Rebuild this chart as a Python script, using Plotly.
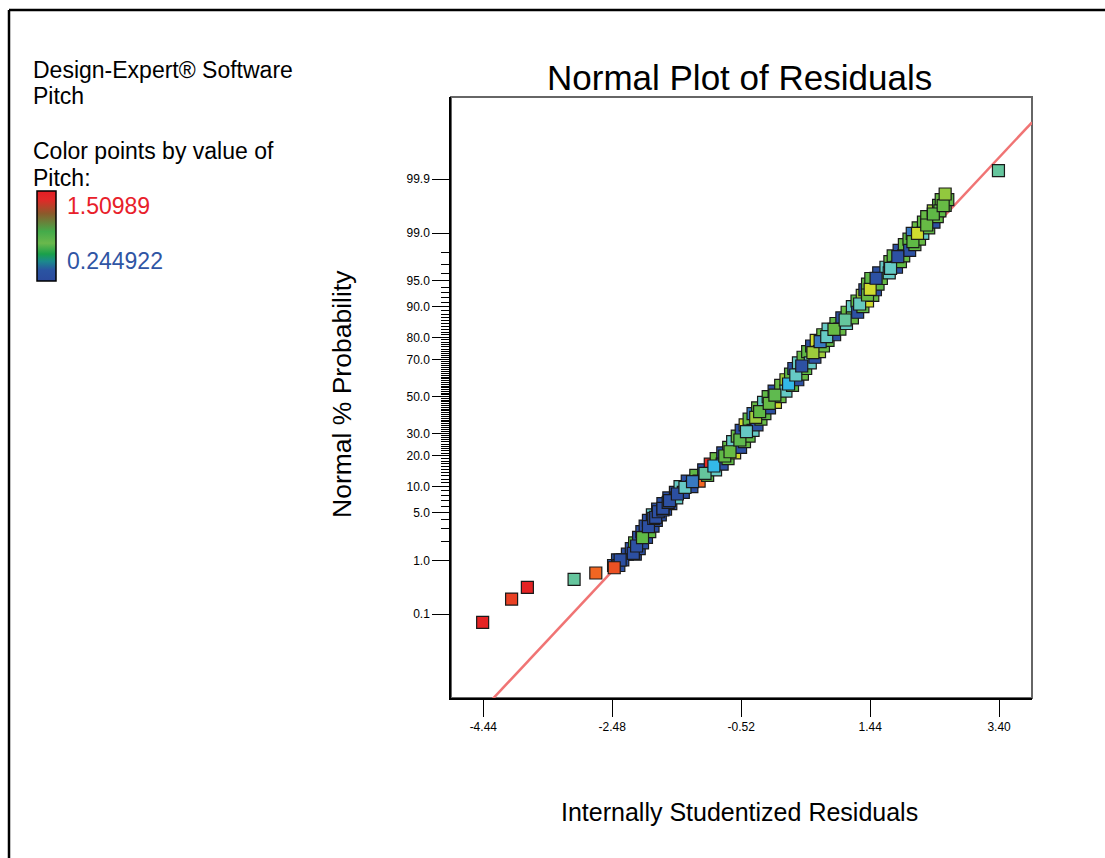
import plotly.graph_objects as go
from statistics import NormalDist

# ---------------- data ----------------
# Dense band of points (mostly hidden under the visible ones):
# normal score of each level and the residuals at the two edges of the band
band_score = [
    -2.40, -2.32, -2.24, -2.16, -2.08, -2.00, -1.92, -1.84, -1.76, -1.68,
    -1.60, -1.52, -1.44, -1.36, -1.28, -1.20, -1.12, -1.04, -0.96, -0.88,
    -0.80, -0.72, -0.64, -0.56, -0.48, -0.40, -0.32, -0.24, -0.16, -0.08,
    0.00, 0.08, 0.16, 0.24, 0.32, 0.40, 0.48, 0.56, 0.64, 0.72,
    0.80, 0.88, 0.96, 1.04, 1.12, 1.20, 1.28, 1.36, 1.44, 1.52,
    1.60, 1.68, 1.76, 1.84, 1.92, 2.00, 2.08, 2.16, 2.24, 2.32,
    2.40, 2.48, 2.56, 2.64, 2.72, 2.80,
]
band_resid_left = [
    -2.46, -2.40, -2.25, -2.19, -2.14, -2.08, -2.03, -1.98, -1.93, -1.87,
    -1.79, -1.71, -1.62, -1.52, -1.45, -1.34, -1.21, -1.09, -0.99, -0.90,
    -0.80, -0.71, -0.65, -0.58, -0.52, -0.46, -0.40, -0.34, -0.27, -0.18,
    -0.11, -0.02, 0.08, 0.16, 0.23, 0.28, 0.35, 0.42, 0.49, 0.55,
    0.62, 0.72, 0.80, 0.92, 1.01, 1.09, 1.17, 1.24, 1.32, 1.36,
    1.40, 1.45, 1.57, 1.68, 1.74, 1.79, 1.88, 1.96, 2.03, 2.08,
    2.17, 2.25, 2.30, 2.40, 2.48, 2.52,
]
band_resid_right = [
    -2.38, -2.32, -2.13, -2.07, -2.02, -1.96, -1.91, -1.86, -1.81, -1.75,
    -1.67, -1.59, -1.50, -1.40, -1.27, -1.16, -1.03, -0.91, -0.81, -0.72,
    -0.62, -0.53, -0.47, -0.40, -0.34, -0.28, -0.22, -0.16, -0.09, 0.00,
    0.07, 0.16, 0.26, 0.34, 0.41, 0.46, 0.53, 0.60, 0.67, 0.73,
    0.80, 0.90, 0.98, 1.08, 1.17, 1.25, 1.33, 1.40, 1.48, 1.52,
    1.56, 1.61, 1.73, 1.84, 1.90, 1.95, 2.04, 2.12, 2.19, 2.24,
    2.33, 2.41, 2.46, 2.50, 2.58, 2.62,
]
band_pitch_left = [
    0.28, 0.30, 0.28, 0.28, 0.78, 0.28, 0.30, 0.28, 0.28, 0.55,
    0.28, 0.30, 0.28, 0.28, 0.55, 0.30, 0.78, 0.28, 1.48, 0.80,
    0.30, 0.78, 0.55, 0.80, 0.30, 1.05, 0.78, 0.40, 0.80, 0.55,
    0.78, 0.30, 0.80, 0.95, 0.78, 0.30, 0.55, 0.80, 0.78, 0.30,
    1.05, 0.80, 0.55, 0.78, 0.30, 0.80, 0.55, 0.78, 0.95, 0.30,
    0.80, 0.78, 0.30, 0.55, 0.80, 0.78, 0.30, 0.80, 0.78, 0.40,
    0.80, 0.78, 0.80, 0.95, 0.78, 0.80,
]
band_pitch_right = [
    0.30, 0.28, 0.28, 0.30, 0.28, 0.28, 0.78, 0.28, 0.30, 0.28,
    0.28, 0.30, 0.55, 0.28, 0.30, 1.33, 0.78, 0.55, 0.30, 0.78,
    1.05, 0.30, 0.80, 0.78, 0.55, 0.30, 0.80, 0.78, 0.30, 1.05,
    0.80, 0.55, 0.78, 0.30, 0.80, 0.78, 0.55, 0.30, 0.95, 0.80,
    0.78, 0.30, 0.80, 0.55, 0.80, 0.30, 0.78, 1.05, 0.80, 0.30,
    0.78, 0.80, 0.55, 0.30, 0.78, 0.80, 0.30, 0.78, 0.80, 0.55,
    0.78, 0.30, 0.80, 0.78, 0.80, 0.78,
]

# Visible points on top of the band, plus the isolated points
top_resid = [
    -2.36, -2.16, -2.11, -2.02, -1.93, -1.85, -1.82, -1.78, -1.71, -1.71,
    -1.63, -1.61, -1.49, -1.375, -1.26, -1.07, -0.935, -0.77, -0.69, -0.54,
    -0.44, -0.30, -0.24, -0.094, -0.008, 0.20, 0.31, 0.40, 0.57, 0.68,
    0.78, 0.89, 1.06, 1.28, 1.40, 1.44, 1.53, 1.75, 1.86, 2.09,
    2.16, 2.30, 2.40, 2.55, 2.58,
    -4.45, -4.01, -3.77, -3.06, -2.73, -2.45, 3.39,
]
top_score = [
    -2.322, -2.227, -2.123, -2.005, -1.849, -1.729, -1.715, -1.636, -1.611, -1.587,
    -1.502, -1.479, -1.384, -1.289, -1.209, -1.090, -0.986, -0.844, -0.783, -0.616,
    -0.498, -0.294, -0.214, -0.095, 0.023, 0.180, 0.308, 0.436, 0.625, 0.781,
    0.852, 0.957, 1.090, 1.317, 1.445, 1.526, 1.683, 1.825, 1.990, 2.203,
    2.322, 2.440, 2.597, 2.715, 2.881,
    -3.208, -2.877, -2.710, -2.597, -2.507, -2.432, 3.212,
]
top_pitch = [
    0.28, 0.28, 0.30, 0.78, 0.28, 0.30, 0.28, 0.28, 0.30, 0.28,
    0.28, 0.30, 0.28, 0.55, 0.40, 0.62, 0.48, 0.78, 0.80, 0.76,
    0.55, 0.95, 0.78, 0.80, 0.76, 0.48, 0.55, 0.30, 0.95, 0.40,
    0.55, 0.80, 0.62, 0.56, 0.80, 1.05, 0.30, 0.55, 0.30, 0.78,
    1.05, 0.80, 0.78, 0.80, 0.92,
    1.50, 1.44, 1.50, 0.62, 1.33, 1.40, 0.62,
]

# reference (normal) line: residual = normal score
fit_resid = [-4.93, 3.90]
fit_score = [-4.93, 3.90]

pitch_min, pitch_max = 0.244922, 1.50989

prob_major = [0.1, 1, 5, 10, 20, 30, 50, 70, 80, 90, 95, 99, 99.9]
prob_major_text = ["0.1", "1.0", "5.0", "10.0", "20.0", "30.0", "50.0",
                   "70.0", "80.0", "90.0", "95.0", "99.0", "99.9"]
prob_minor = [2, 3, 4, 6, 7, 8, 9] + list(range(11, 20)) + list(range(21, 30)) + \
             list(range(31, 50)) + list(range(51, 70)) + list(range(71, 80)) + \
             list(range(81, 90)) + [91, 92, 93, 94, 96, 97, 98]

x_ticks = [-4.44, -2.48, -0.52, 1.44, 3.40]
x_tick_text = ["-4.44", "-2.48", "-0.52", "1.44", "3.40"]

# ---------------- helpers ----------------
nd = NormalDist()


def probit(p):
    return nd.inv_cdf(p / 100.0)


W, H = 1105, 858
ML, MR, MT, MB = 451, 73, 97, 160
PW, PH = W - ML - MR, H - MT - MB


def fx(px):
    return (px - ML) / PW


def fy(py):
    return (H - MB - py) / PH


FONT = "Liberation Sans, Arial, sans-serif"

point_scale = [
    [0.00, "#2b4c9f"], [0.08, "#2f56a6"], [0.13, "#3a80c6"], [0.19, "#33bdea"],
    [0.24, "#66cac6"], [0.30, "#65c59a"], [0.42, "#5eb946"], [0.56, "#9ecb3c"],
    [0.64, "#d2dd2e"], [0.76, "#f5a623"], [0.86, "#f26522"], [0.93, "#ea4a24"],
    [1.00, "#e31e24"],
]
legend_scale = [
    [0.00, "#2b4a9d"], [0.12, "#2a54a2"], [0.22, "#1b8a8c"], [0.30, "#1aa04a"],
    [0.42, "#6ab84c"], [0.55, "#44ab4a"], [0.75, "#8b5a2b"], [0.90, "#e02a28"],
    [1.00, "#e31e24"],
]

all_resid = band_resid_left + band_resid_right + top_resid
all_score = band_score + band_score + top_score
all_pitch = band_pitch_left + band_pitch_right + top_pitch

fig = go.Figure()

fig.add_trace(go.Scatter(
    x=fit_resid, y=fit_score, mode="lines",
    line=dict(color="#f07474", width=2.5), hoverinfo="skip", showlegend=False,
))

fig.add_trace(go.Scatter(
    x=all_resid, y=all_score, mode="markers", showlegend=False,
    marker=dict(
        symbol="square", size=12, color=all_pitch,
        cmin=pitch_min, cmax=pitch_max, colorscale=point_scale,
        showscale=False, line=dict(color="#1a1a1a", width=1.2),
    ),
))

# legend colour bar (left panel)
fig.add_trace(go.Scatter(
    x=[None, None], y=[None, None], mode="markers", showlegend=False,
    marker=dict(
        color=[pitch_min, pitch_max], cmin=pitch_min, cmax=pitch_max,
        colorscale=legend_scale, showscale=True,
        colorbar=dict(
            x=fx(37), xanchor="left", y=fy(236), yanchor="middle",
            len=90, lenmode="pixels", thickness=19, thicknessmode="pixels",
            outlinewidth=1.5, outlinecolor="black",
            showticklabels=False, ticks="", xpad=0, ypad=0,
        ),
    ),
))

annotations = [
    dict(text="Design-Expert® Software", x=fx(31), y=fy(70), xanchor="left",
         yanchor="middle", font=dict(size=23, color="black", family=FONT)),
    dict(text="Pitch", x=fx(31), y=fy(96), xanchor="left",
         yanchor="middle", font=dict(size=23, color="black", family=FONT)),
    dict(text="Color points by value of", x=fx(31), y=fy(151), xanchor="left",
         yanchor="middle", font=dict(size=23, color="black", family=FONT)),
    dict(text="Pitch:", x=fx(31), y=fy(178), xanchor="left",
         yanchor="middle", font=dict(size=23, color="black", family=FONT)),
    dict(text="1.50989", x=fx(65), y=fy(206), xanchor="left",
         yanchor="middle", font=dict(size=23, color="#e8202a", family=FONT)),
    dict(text="0.244922", x=fx(65), y=fy(261), xanchor="left",
         yanchor="middle", font=dict(size=23, color="#2f55a4", family=FONT)),
    dict(text="Normal Plot of Residuals", x=fx(739), y=fy(77), xanchor="center",
         yanchor="middle", font=dict(size=35, color="black", family=FONT)),
    dict(text="Normal % Probability", x=fx(342), y=fy(394), xanchor="center",
         yanchor="middle", textangle=-90,
         font=dict(size=26.5, color="black", family=FONT)),
    dict(text="Internally Studentized Residuals", x=fx(739), y=fy(812),
         xanchor="center", yanchor="middle",
         font=dict(size=25, color="black", family=FONT)),
]
for a in annotations:
    a.update(xref="paper", yref="paper", showarrow=False)

shapes = [
    # grey plot frame (top/right)
    dict(type="rect", xref="paper", yref="paper", x0=0, x1=1, y0=0, y1=1,
         line=dict(color="#666666", width=2), layer="below"),
    # outer figure frame
    dict(type="line", xref="paper", yref="paper", x0=fx(9), x1=fx(9),
         y0=fy(10), y1=fy(900), line=dict(color="black", width=2.5)),
    dict(type="line", xref="paper", yref="paper", x0=fx(9), x1=fx(1150),
         y0=fy(10), y1=fy(10), line=dict(color="black", width=2.5)),
]

fig.update_layout(
    width=W, height=H, autosize=False,
    margin=dict(l=ML, r=MR, t=MT, b=MB, pad=0),
    paper_bgcolor="white", plot_bgcolor="white",
    font=dict(family=FONT, color="black"),
    annotations=annotations, shapes=shapes, showlegend=False,
    xaxis=dict(
        range=[-4.931, 3.90], showgrid=False, zeroline=False,
        showline=True, linecolor="black", linewidth=1.5,
        tickmode="array", tickvals=x_ticks, ticktext=x_tick_text,
        ticks="outside", ticklen=17, tickwidth=1, tickcolor="black",
        tickfont=dict(size=12, family=FONT, color="black"),
    ),
    yaxis=dict(
        range=[-4.284, 4.26], showgrid=False, zeroline=False,
        showline=True, linecolor="black", linewidth=1.5,
        tickmode="array", tickvals=[probit(p) for p in prob_major],
        ticktext=prob_major_text,
        ticks="outside", ticklen=17, tickwidth=1, tickcolor="black",
        tickfont=dict(size=12, family=FONT, color="black"),
        minor=dict(tickmode="array", tickvals=[probit(p) for p in prob_minor],
                   ticks="outside", ticklen=8, tickwidth=1, tickcolor="black",
                   showgrid=False),
    ),
)

fig.write_html("out.html", config={"displayModeBar": False},
               post_script="document.body.style.margin='0px';")
